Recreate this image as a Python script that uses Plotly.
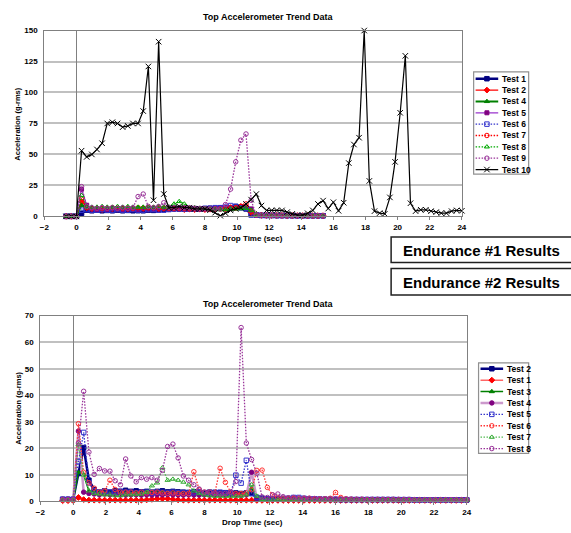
import plotly.graph_objects as go

W, H = 571, 533
FONT = "Liberation Sans, Arial, sans-serif"

# ---------------- data ----------------
TIME = [-0.64, -0.32, 0.00, 0.32, 0.64, 0.96, 1.28, 1.60, 1.92, 2.24, 2.56, 2.88,
        3.20, 3.52, 3.84, 4.16, 4.48, 4.80, 5.12, 5.44, 5.76, 6.08, 6.40, 6.72,
        7.04, 7.36, 7.68, 8.00, 8.32, 8.64, 8.96, 9.28, 9.60, 9.92, 10.24, 10.56,
        10.88, 11.20, 11.52, 11.84, 12.16, 12.48, 12.80, 13.12, 13.44, 13.76, 14.08,
        14.40, 14.72, 15.04, 15.36, 15.68, 16.00, 16.32, 16.64, 16.96, 17.28, 17.60,
        17.92, 18.24, 18.56, 18.88, 19.20, 19.52, 19.84, 20.16, 20.48, 20.80, 21.12,
        21.44, 21.76, 22.08, 22.40, 22.72, 23.04, 23.36, 23.68, 24.00]

# Endurance #1 (top chart)
TOP_TEST1 = [0, 0, 0,
             2.5, 5, 4.5, 5, 4.5, 4.8, 4.5, 5, 4.5, 4.8,
             4.5, 4.6, 4.5, 5, 4.8, 5.2, 5.5, 6, 6.2, 6,
             5.8, 6, 5.8, 6, 6.2, 6.5, 6.3, 6.8, 6.5, 7,
             8, 7.5, 6, 2, 1,
             0.8, 0.7, 0.7, 0.6, 0.6, 0.6, 0.5, 0.5, 0.5, 0.5, 0.5, 0.5, 0.5]
TOP_TEST2 = [0, 0, 0,
             12, 7, 6, 6, 5.5, 6, 6, 6, 5.5, 6,
             6, 6, 6.5, 6, 6.5, 6, 6.5, 6, 6, 6,
             5.5, 6, 5.5, 6, 5.5, 6, 6, 6.5, 6, 7,
             7, 8, 8, 3, 1.5,
             1, 0.8, 0.8, 0.7, 0.7, 0.6, 0.6, 0.6, 0.5, 0.5, 0.5, 0.5, 0.5]
TOP_TEST4 = [0, 0, 0,
             9, 6.5, 6.5, 7, 6.5, 7, 7, 6.5, 7, 7,
             6.5, 7, 7, 7, 6.5, 7, 7, 7.5, 7, 7,
             6.5, 6.5, 6.5, 6, 6, 6, 5.5, 5.5, 6, 6,
             6.5, 6, 6, 5.3, 2,
             1, 0.8, 0.8, 0.7, 0.7, 0.6, 0.6, 0.6, 0.5, 0.5, 0.5, 0.5, 0.5]
TOP_TEST5 = [0, 0, 0,
             22, 9, 6, 5.5, 6, 5.5, 6, 6, 5.5, 6,
             6, 5.5, 6, 6, 5.5, 6, 6.5, 6, 6, 6,
             6, 6, 6.5, 6, 6, 6.5, 6.5, 7, 7, 7,
             7, 7.5, 7, 6, 1.5,
             0.8, 0.8, 0.7, 0.7, 0.7, 0.6, 0.6, 0.6, 0.6, 0.5, 0.5, 0.5, 0.5]
TOP_TEST6 = [0, 0, 0,
             5, 5.5, 5, 5, 5.5, 5, 5, 5.5, 5, 5,
             5.5, 5, 5, 5.5, 5.5, 5, 5, 5.5, 6, 6,
             6, 6, 6, 6, 6.5, 6.5, 7, 7, 7.5, 8.7,
             8, 7, 6.5, 1, 1,
             0.7, 0.7, 0.7, 0.6, 0.6, 0.6, 0.6, 0.5, 0.5, 0.5, 0.5, 0.5, 0.5]
TOP_TEST7 = [0, 0, 0,
             14, 7, 6.5, 6.5, 6.5, 6.5, 7, 6.5, 6.5, 6.5,
             6.5, 7, 6.5, 7, 7, 6.5, 6.5, 6.5, 6.5, 6.5,
             6.5, 6, 6, 6, 6, 5.5, 6, 6, 6.5, 7,
             7, 8, 10, 4, 1,
             0.8, 0.8, 0.7, 0.7, 0.7, 0.6, 0.6, 0.6, 0.6, 0.5, 0.5, 0.5, 0.5]
TOP_TEST8 = [0, 0, 0,
             17, 8, 7.5, 7.5, 8, 7.5, 7.5, 8, 7.5, 8,
             7.5, 7.5, 7.5, 7.5, 7.5, 8, 7.5, 7.5, 10, 12,
             10, 7, 7, 6.5, 6.5, 6, 6, 5.5, 5.5, 6,
             6, 6.5, 6.5, 5, 1.5,
             0.8, 0.8, 0.7, 0.7, 0.7, 0.6, 0.6, 0.6, 0.6, 0.5, 0.5, 0.5, 0.5]
TOP_TEST9 = [0, 0, 0,
             24, 8, 7, 6.5, 7, 6.5, 7, 6.5, 7, 6.5,
             7, 16, 18, 8, 7, 8, 11, 7, 7, 7,
             7, 7, 6.5, 6.5, 6, 6, 6, 6, 9.5, 22,
             44, 61.5, 66.5, 13, 1,
             0.8, 0.8, 0.7, 0.7, 0.7, 0.6, 0.6, 0.6, 0.6, 0.5, 0.5, 0.5, 0.5]
TOP_TEST10 = [0, 0, 0,
              53, 48, 50, 54, 59, 75, 76, 75, 72, 73,
              75, 75, 85, 121, 13, 141, 18, 7, 7, 8,
              7, 7, 6, 6, 6, 5, 3, 0.5, 2.6, 4.8,
              6, 7, 10, 13.5, 18, 8.7, 4.8, 4.8, 4.8, 4.8,
              3.4, 2, 1, 1, 2.5, 4.8, 10, 12.7, 6.3, 11.4,
              4.5, 11, 43, 58, 63.5, 150, 28.6, 4.2, 2.6, 2,
              15.3, 44, 83.6, 129.6, 10.6, 4.2, 5.3, 5.3, 4.2, 3.4,
              2.6, 2.6, 4.2, 4.8, 4.5]

# Endurance #2 (bottom chart)
BOT_TEST2 = [0.8, 0.8, 0.8,
             10.5, 20.3, 8, 4.5, 3.5, 4, 3.5, 4, 3.8, 4.2,
             3.8, 4, 3.6, 3.8, 3.5, 3.8, 4, 3.6, 3.8, 3.6,
             3.5, 3.4, 3.6, 3.5, 3.3, 3.5, 3.4, 3.2, 3.3, 3.2,
             3.2, 3, 3.2, 3, 1.5, 1.2, 1, 1, 0.9, 0.9,
             0.9, 0.9, 0.8, 0.8, 0.8, 0.8, 0.8, 0.8, 0.8, 0.7,
             0.7, 0.7, 0.7, 0.7, 0.7, 0.7, 0.7, 0.7, 0.7, 0.7,
             0.7, 0.6, 0.6, 0.6, 0.6, 0.6, 0.6, 0.6, 0.6, 0.6,
             0.6, 0.6, 0.6, 0.6, 0.6]
BOT_TEST1 = [0.3, 0.3, 0.3,
             1.5, 0.7, 0.5, 0.5, 0.5, 0.5, 0.5, 0.5, 0.5, 0.5,
             0.5, 0.5, 0.5, 0.6, 0.8, 1, 1, 1, 0.8, 0.6,
             0.5, 0.5, 0.5, 0.5, 0.5, 0.5, 0.5, 0.5, 0.5, 0.5,
             0.5, 0.5, 0.5, 0.5, 0.4, 0.4, 0.4, 0.4, 0.4, 0.4,
             0.4, 0.4, 0.4, 0.4, 0.4, 0.4, 0.4, 0.4, 0.4, 0.4,
             0.4, 0.4, 0.4, 0.4, 0.4, 0.4, 0.4, 0.4, 0.4, 0.4,
             0.4, 0.4, 0.4, 0.4, 0.4, 0.4, 0.4, 0.4, 0.4, 0.4,
             0.4, 0.4, 0.4, 0.4, 0.4]
BOT_TEST3 = [0.5, 0.5, 0.5,
             11, 10, 4, 3.5, 3, 3.2, 3, 2.8, 3, 3,
             2.8, 3, 2.8, 3, 3, 3.2, 3.5, 3.2, 3, 3,
             2.8, 2.8, 2.6, 2.6, 2.5, 2.5, 2.4, 2.4, 2.4, 2.5,
             2.5, 2.6, 2.8, 5, 1, 0.8, 0.7, 0.7, 0.6, 0.6,
             0.6, 0.6, 0.6, 0.6, 0.6, 0.6, 0.6, 0.6, 0.6, 0.6,
             0.5, 0.5, 0.5, 0.5, 0.5, 0.5, 0.5, 0.5, 0.5, 0.5,
             0.5, 0.5, 0.5, 0.5, 0.4, 0.4, 0.4, 0.4, 0.4, 0.4,
             0.4, 0.4, 0.4, 0.4, 0.4]
BOT_TEST4 = [0.8, 0.8, 0.8,
             26.5, 3.5, 3, 2.8, 2.5, 2.8, 2.5, 2.6, 2.5, 2.4,
             2.5, 2.5, 2.4, 2.5, 2.4, 2.5, 2.5, 2.6, 2.5, 2.4,
             2.4, 2.5, 2.4, 2.4, 2.5, 2.4, 2.4, 2.5, 2.4, 2.5,
             2.5, 2.4, 2.5, 11, 1, 0.8, 0.8, 0.7, 0.7, 0.7,
             0.7, 0.7, 0.7, 0.7, 0.7, 0.7, 0.7, 0.7, 0.6, 0.6,
             0.6, 0.6, 0.6, 0.6, 0.6, 0.6, 0.6, 0.6, 0.6, 0.6,
             0.6, 0.6, 0.6, 0.6, 0.6, 0.5, 0.5, 0.5, 0.5, 0.5,
             0.5, 0.5, 0.5, 0.5, 0.5]
BOT_TEST5 = [0.8, 0.8, 0.8,
             15, 26, 7, 4, 3.5, 3.8, 3.5, 3.5, 3.8, 3.5,
             3.5, 3.2, 3.5, 3.5, 3.2, 3.5, 3.4, 3.2, 3.5, 3.3,
             3.2, 3.2, 3.3, 3.5, 3.3, 3.2, 3.4, 3.5, 3.2, 3,
             9.9, 6.9, 15.5, 3, 1.5, 1.2, 1, 1, 1, 1.2,
             1.2, 1.5, 1.5, 1.2, 1, 1, 0.9, 0.8, 0.8, 0.8,
             0.7, 0.7, 0.7, 0.7, 0.7, 0.7, 0.7, 0.7, 0.7, 0.7,
             0.7, 0.7, 0.7, 0.7, 0.6, 0.6, 0.6, 0.6, 0.6, 0.6,
             0.6, 0.6, 0.6, 0.6, 0.6]
BOT_TEST6 = [0.5, 0.5, 0.5,
             29.3, 11, 7, 5, 3.5, 4, 8, 4.5, 3.5, 3.5,
             3.5, 3.2, 3.5, 3.2, 3.4, 3.5, 3.2, 3, 3.2, 3,
             3, 3, 11.2, 4.5, 3.5, 3.5, 3.2, 12.5, 7.2, 3.5,
             3, 3, 3.2, 4.4, 11.7, 11.8, 5.3, 2.4, 1.5, 1.2,
             1.2, 1.2, 1.2, 1.2, 1.2, 1, 1, 1, 1.2, 3.4,
             1.5, 1, 0.8, 0.8, 0.8, 0.7, 0.7, 0.7, 0.7, 0.7,
             0.7, 0.7, 0.6, 0.6, 0.6, 0.6, 0.6, 0.6, 0.6, 0.6,
             0.6, 0.6, 0.6, 0.6, 0.6]
BOT_TEST7 = [0.5, 0.5, 0.5,
             21.4, 10, 4, 3, 2.8, 2.5, 2.5, 2.2, 2.2, 2.5,
             2.5, 2.6, 2.8, 3.5, 5.9, 7, 12.7, 8, 8.4, 8,
             7.3, 6.3, 4, 3, 2.5, 2.2, 2, 2, 2, 2,
             2, 2, 2.5, 6.3, 2, 0.8, 0.6, 0.6, 0.6, 0.6,
             0.6, 0.6, 0.6, 0.5, 0.5, 0.5, 0.5, 0.5, 0.5, 0.5,
             0.5, 0.5, 0.5, 0.5, 0.5, 0.5, 0.5, 0.5, 0.5, 0.5,
             0.5, 0.5, 0.5, 0.5, 0.5, 0.5, 0.5, 0.5, 0.5, 0.5,
             0.5, 0.5, 0.5, 0.5, 0.5]
BOT_TEST8 = [0.8, 0.8, 0.8,
             22, 41.5, 18.6, 10.2, 12.4, 11.5, 11.4, 7.8, 6.3, 16,
             9.6, 7.4, 9, 8.4, 9, 8, 11.7, 20.7, 21.6, 16.4,
             9.6, 8, 6.3, 4.7, 3.5, 3.5, 3, 3, 3, 3.5,
             7.5, 65.5, 22, 15.8, 10.6, 1.7, 1.5, 2.5, 2.8, 1.8,
             1.4, 1.5, 1.3, 1.2, 1.2, 1.1, 1, 1, 1, 1,
             0.9, 0.9, 0.9, 0.8, 0.8, 0.8, 0.8, 0.8, 0.8, 0.8,
             0.8, 0.8, 0.8, 0.8, 0.7, 0.7, 0.7, 0.7, 0.7, 0.7,
             0.7, 0.7, 0.7, 0.7, 0.7]

TOP_NAMES = ["Test 1", "Test 2", "Test 4", "Test 5", "Test 6", "Test 7", "Test 8", "Test 9", "Test 10"]
TOP_DATA = [TOP_TEST1, TOP_TEST2, TOP_TEST4, TOP_TEST5, TOP_TEST6, TOP_TEST7, TOP_TEST8, TOP_TEST9, TOP_TEST10]
BOT_NAMES = ["Test 2", "Test 1", "Test 3", "Test 4", "Test 5", "Test 6", "Test 7", "Test 8"]
BOT_DATA = [BOT_TEST2, BOT_TEST1, BOT_TEST3, BOT_TEST4, BOT_TEST5, BOT_TEST6, BOT_TEST7, BOT_TEST8]

# ---------------- styles ----------------
DOT = "1.5px,1.5px"
# (line color, line width, dash, marker symbol, marker color, marker size)
TOP_STYLE = [
    ("#000080", 2.5, "solid", "square", "#000080", 4.5),
    ("#FF0000", 1.2, "solid", "diamond", "#FF0000", 4.5),
    ("#008000", 2.0, "solid", "triangle-up", "#008000", 4.5),
    ("#9933CC", 1.2, "solid", "square", "#800080", 4),
    ("#3333CC", 1.3, DOT, "square-open", "#3333CC", 4.5),
    ("#FF0000", 1.3, DOT, "circle-open", "#FF0000", 4.5),
    ("#00AA00", 1.3, DOT, "triangle-up-open", "#00AA00", 4.5),
    ("#993399", 1.3, DOT, "circle-open", "#993399", 4.5),
    ("#000000", 1.2, "solid", "x-thin-open", "#000000", 5.5),
]
BOT_STYLE = [
    ("#000080", 2.5, "solid", "square", "#000080", 4.5),
    ("#FF6666", 1.5, "solid", "diamond", "#FF0000", 4.5),
    ("#008000", 1.5, "solid", "triangle-up", "#008000", 4.5),
    ("#CC99CC", 2.5, "solid", "circle", "#800080", 4.5),
    ("#3333CC", 1.3, DOT, "square-open", "#3333CC", 4.5),
    ("#FF3333", 1.3, DOT, "circle-open", "#FF3333", 4.5),
    ("#55BB55", 1.3, DOT, "triangle-up-open", "#33AA33", 4.5),
    ("#993399", 1.3, DOT, "circle-open", "#993399", 4.5),
]

fig = go.Figure()


def add_series(names, datas, styles, xa, ya):
    for name, vals, st in zip(names, datas, styles):
        lc, lw, dash, sym, mc, ms = st
        fig.add_trace(go.Scatter(
            x=TIME[:len(vals)], y=vals, name=name, mode="lines+markers",
            line=dict(color=lc, width=lw, dash=dash),
            marker=dict(symbol=sym, color=mc, size=ms, line=dict(color=mc, width=1)),
            xaxis=xa, yaxis=ya, cliponaxis=False, showlegend=False))


add_series(TOP_NAMES, TOP_DATA, TOP_STYLE, "x", "y")
add_series(BOT_NAMES, BOT_DATA, BOT_STYLE, "x2", "y2")

# ---------------- manual legends (on pixel-scaled overlay axes) ----------------
annotations = []
shapes = []


def add_legend(names, styles, xa, ya, box, line_x, text_x, row0, step):
    x0, y0, x1, y1 = box
    shapes.append(dict(type="rect", xref="paper", yref="paper",
                       x0=x0 / W, x1=x1 / W, y0=1 - y1 / H, y1=1 - y0 / H,
                       line=dict(color="#909090", width=1.2), fillcolor="white", layer="below"))
    for i, (name, st) in enumerate(zip(names, styles)):
        lc, lw, dash, sym, mc, ms = st
        yr = row0 + i * step
        fig.add_trace(go.Scatter(x=[line_x[0], line_x[1]], y=[yr, yr], mode="lines",
                                 line=dict(color=lc, width=lw, dash=dash),
                                 xaxis=xa, yaxis=ya, showlegend=False, hoverinfo="skip"))
        fig.add_trace(go.Scatter(x=[(line_x[0] + line_x[1]) / 2], y=[yr], mode="markers",
                                 marker=dict(symbol=sym, color=mc, size=ms, line=dict(color=mc, width=1)),
                                 xaxis=xa, yaxis=ya, showlegend=False, hoverinfo="skip", cliponaxis=False))
        annotations.append(dict(text=name, x=text_x, y=yr, xref=xa, yref=ya,
                                xanchor="left", yanchor="middle", showarrow=False,
                                font=dict(family=FONT, size=8.5, color="black", weight="bold")))


add_legend(TOP_NAMES, TOP_STYLE, "x3", "y3", (477, 69, 533, 173), (479, 502), 504, 76, 11.55)
add_legend(BOT_NAMES, BOT_STYLE, "x4", "y4", (482, 365, 533, 457), (484, 507), 508.5, 371, 11.6)

# ---------------- titles and boxes ----------------
def ann(text, xp, yp, size, angle=0, bold=True, xanchor="center"):
    annotations.append(dict(text=text, x=xp / W, y=1 - yp / H, xref="paper", yref="paper",
                            xanchor=xanchor, yanchor="middle", showarrow=False, textangle=angle,
                            font=dict(family=FONT, size=size, color="black",
                                      weight="bold" if bold else "normal")))


ann("Top Accelerometer Trend Data", 268, 13, 9)
ann("Drop Time (sec)", 252, 239, 8)
ann("Acceleration (g-rms)", 13, 122, 7.5, angle=-90)
ann("Top Accelerometer Trend Data", 268, 305, 9)
ann("Drop Time (sec)", 252, 527, 8)
ann("Acceleration (g-rms)", 13, 411, 7.5, angle=-90)

for (ytop, ybot, label) in [(237, 263, "Endurance #1 Results"), (269, 296, "Endurance #2 Results")]:
    shapes.append(dict(type="rect", xref="paper", yref="paper",
                       x0=393 / W, x1=1.05, y0=1 - ybot / H, y1=1 - ytop / H,
                       line=dict(color="#202020", width=1.5), fillcolor="white"))
    ann(label, 403, (ytop + ybot) / 2 + 0.5, 15, xanchor="left")

tickfont = dict(family=FONT, size=8, color="black", weight="bold")
xcommon = dict(range=[-2, 24], tick0=-2, dtick=2, ticks="outside", ticklen=3,
               tickcolor="#808080", showline=True, linecolor="#808080", linewidth=1,
               mirror=True, showgrid=False, zeroline=True, zerolinecolor="#808080",
               zerolinewidth=1, tickfont=tickfont, fixedrange=True)
ycommon = dict(showgrid=True, gridcolor="#C0C0C0", gridwidth=1.5, showline=True,
               linecolor="#808080", linewidth=1, mirror=True, zeroline=False,
               ticks="", tickfont=tickfont, ticklabelstandoff=4, fixedrange=True)

fig.update_layout(
    width=W, height=H, margin=dict(l=0, r=0, t=0, b=0),
    paper_bgcolor="white", plot_bgcolor="white", showlegend=False,
    font=dict(family=FONT, size=8, color="black"),
    xaxis=dict(domain=[40 / W, 465 / W], anchor="y", **xcommon),
    yaxis=dict(domain=[1 - 216 / H, 1 - 27 / H], anchor="x", range=[0, 150], dtick=25, **ycommon),
    xaxis2=dict(domain=[36 / W, 470 / W], anchor="y2", **xcommon),
    yaxis2=dict(domain=[1 - 506 / H, 1 - 317 / H], anchor="x2", range=[0, 70], dtick=10, **ycommon),
    xaxis3=dict(domain=[477 / W, 533 / W], anchor="y3", range=[477, 533], visible=False, fixedrange=True),
    yaxis3=dict(domain=[1 - 173 / H, 1 - 69 / H], anchor="x3", range=[173, 69], visible=False, fixedrange=True),
    xaxis4=dict(domain=[482 / W, 533 / W], anchor="y4", range=[482, 533], visible=False, fixedrange=True),
    yaxis4=dict(domain=[1 - 457 / H, 1 - 365 / H], anchor="x4", range=[457, 365], visible=False, fixedrange=True),
    annotations=annotations, shapes=shapes,
)

fig.write_html("out.html")
